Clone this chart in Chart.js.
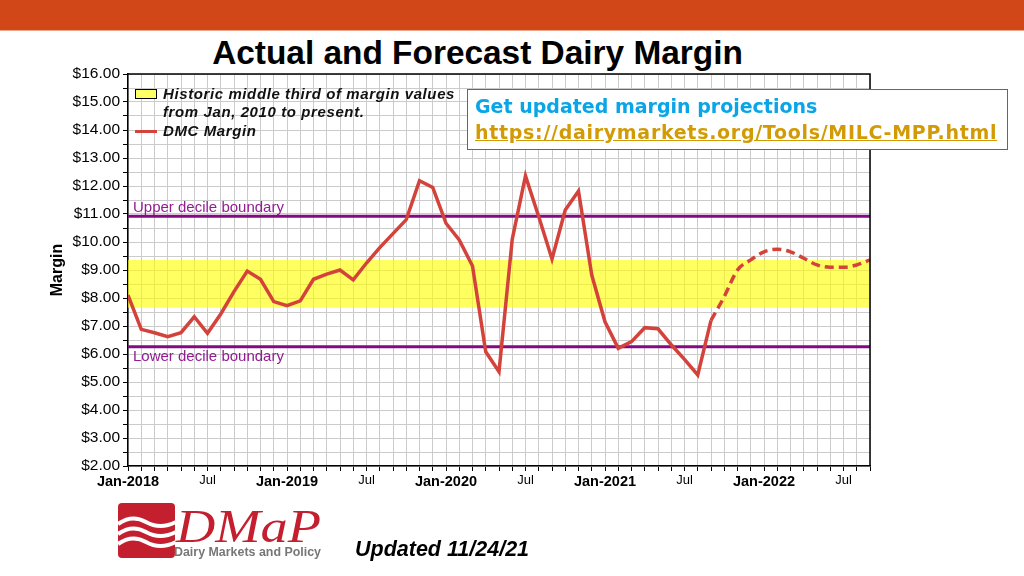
<!DOCTYPE html>
<html>
<head>
<meta charset="utf-8">
<script src="https://cdn.jsdelivr.net/npm/chart.js@4.4.0/dist/chart.umd.min.js"></script>
<style>
  html, body { margin: 0; padding: 0; background: #fff; }
  #page { position: relative; width: 1024px; height: 576px; overflow: hidden; font-family: "Liberation Sans", Arial, sans-serif; }
  #topbar { position: absolute; left: 0; top: 0; width: 1024px; height: 30px; background: #d24718; border-bottom: 1px solid #eaa58a; }
  #title { position: absolute; left: 0; width: 955px; top: 36px; text-align: center; font-weight: bold; font-size: 33.4px; line-height: 33px; color: #000; }
  #chart { position: absolute; left: 0; top: 0; }
  #legend { position: absolute; left: 135px; top: 85px; font-weight: bold; font-style: italic; font-size: 15px; letter-spacing: 0.6px; line-height: 18px; color: #111; }
  #legend .row { position: relative; padding-left: 28px; white-space: nowrap; }
  #legend .swatch { position: absolute; left: 0; top: 4px; width: 20px; height: 8px; background: #ffff66; border: 1px solid #000; }
  #legend .redline { position: absolute; left: 0; top: 8px; width: 22px; height: 3px; background: #d4433b; }
  #info { position: absolute; left: 467px; top: 89px; width: 541px; height: 61px; box-sizing: border-box; border: 1px solid #666; background: #fff; padding: 3px 0 0 7px; font-family: "DejaVu Sans", Verdana, sans-serif; font-weight: bold; }
  #info .l1 { font-size: 19px; line-height: 26px; color: #0aa5e6; }
  #info .l2 { font-size: 19px; line-height: 27px; color: #d29b06; text-decoration: underline; letter-spacing: 0.7px; }
  #updated { position: absolute; left: 355px; top: 537px; font-weight: bold; font-style: italic; font-size: 21.5px; color: #000; }
  #logo { position: absolute; left: 118px; top: 500px; }
</style>
</head>
<body>
<div id="page">
  <div id="topbar"></div>
  <div id="title">Actual and Forecast Dairy Margin</div>
  <canvas id="chart" width="1024" height="576"></canvas>
  <div id="legend">
    <div class="row"><span class="swatch"></span>Historic middle third of margin values</div>
    <div class="row">from Jan, 2010 to present.</div>
    <div class="row" style="margin-top:1px"><span class="redline"></span>DMC Margin</div>
  </div>
  <div id="info">
    <div class="l1">Get updated margin projections</div>
    <div class="l2">https://dairymarkets.org/Tools/MILC-MPP.html</div>
  </div>
  <svg id="logo" width="210" height="62" viewBox="0 0 210 62">
    <rect x="0" y="3" width="57" height="55" rx="4" fill="#c41f2e"/>
    <path d="M0 24 Q 14 14 28 22 T 58 22" stroke="#fff" stroke-width="4" fill="none"/>
    <path d="M0 34 Q 14 24 28 32 T 58 32" stroke="#fff" stroke-width="4" fill="none"/>
    <path d="M0 44 Q 14 34 28 42 T 58 42" stroke="#fff" stroke-width="4" fill="none"/>
    <text x="58" y="42" font-family="Liberation Serif, serif" font-style="italic" font-size="46" fill="#c41f2e" textLength="145" lengthAdjust="spacingAndGlyphs">DMaP</text>
    <text x="56" y="56" font-family="Liberation Sans, Arial, sans-serif" font-weight="bold" font-size="12" fill="#777" textLength="147" lengthAdjust="spacingAndGlyphs">Dairy Markets and Policy</text>
  </svg>
  <div id="updated">Updated 11/24/21</div>
</div>
<script>
// months counted from Jan-2018 (0) to Sep-2022 (56)
const axisMonths = 56;
const xTickMonths = [0, 6, 12, 18, 24, 30, 36, 42, 48, 54];
const xTickLabels = ['Jan-2018', 'Jul', 'Jan-2019', 'Jul', 'Jan-2020', 'Jul', 'Jan-2021', 'Jul', 'Jan-2022', 'Jul'];

// DMC margin, $/cwt, Jan-2018 .. Sep-2021
const actualMargin = [8.10, 6.88, 6.76, 6.62, 6.76, 7.33, 6.74, 7.43, 8.23, 8.96, 8.67, 7.87,
  7.73, 7.90, 8.67, 8.85, 9.00, 8.65, 9.25, 9.80, 10.30, 10.80, 12.19, 11.95,
  10.67, 10.07, 9.14, 6.08, 5.37, 10.10, 12.36, 10.90, 9.39, 11.14, 11.82, 8.82,
  7.15, 6.20, 6.44, 6.94, 6.90, 6.33, 5.81, 5.25, 7.20];

// forecast, Sep-2021 .. Sep-2022
const forecastStart = 44;
const forecastMargin = [7.20, 8.05, 9.00, 9.36, 9.65, 9.74, 9.65, 9.42, 9.18, 9.10, 9.10, 9.18, 9.36];

const bandLow = 7.65;
const bandHigh = 9.36;
const upperDecile = 10.92;
const lowerDecile = 6.26;

const red = '#d4433b';
const purple = '#840a84';
const sans = '"Liberation Sans", Arial, sans-serif';

function flatLine(v) {
  return [{ x: 0, y: v }, { x: axisMonths, y: v }];
}

const boxPlugin = {
  id: 'boxPlugin',
  afterDatasetsDraw(chart) {
    const { ctx, chartArea: a, scales } = chart;
    ctx.save();
    ctx.font = '15px ' + sans;
    ctx.fillStyle = '#931c93';
    ctx.textBaseline = 'bottom';
    ctx.fillText('Upper decile boundary', a.left + 5, scales.y.getPixelForValue(upperDecile) - 1);
    ctx.textBaseline = 'top';
    ctx.fillText('Lower decile boundary', a.left + 5, scales.y.getPixelForValue(lowerDecile) + 3);
    ctx.strokeStyle = '#000';
    ctx.lineWidth = 1.5;
    ctx.beginPath();
    ctx.moveTo(a.left, a.top);
    ctx.lineTo(a.right, a.top);
    ctx.lineTo(a.right, a.bottom);
    ctx.stroke();
    ctx.restore();
  }
};

const gridOpts = { color: '#cbcbcb', lineWidth: 1, tickColor: '#000', tickLength: 5, drawTicks: true };

new Chart(document.getElementById('chart'), {
  type: 'line',
  data: {
    datasets: [
      {
        label: 'DMC Margin',
        data: actualMargin.map((v, i) => ({ x: i, y: v })),
        borderColor: red,
        borderWidth: 3.5,
        pointRadius: 0,
        tension: 0,
        order: 1
      },
      {
        label: 'Forecast',
        data: forecastMargin.map((v, i) => ({ x: forecastStart + i, y: v })),
        borderColor: red,
        borderWidth: 3.5,
        borderDash: [9, 5],
        borderCapStyle: 'butt',
        pointRadius: 0,
        cubicInterpolationMode: 'monotone',
        order: 1
      },
      {
        label: 'Upper decile',
        data: flatLine(upperDecile),
        borderColor: purple,
        borderWidth: 3,
        pointRadius: 0,
        order: 2
      },
      {
        label: 'Lower decile',
        data: flatLine(lowerDecile),
        borderColor: purple,
        borderWidth: 3,
        pointRadius: 0,
        order: 2
      },
      {
        label: 'Historic middle third',
        data: flatLine(bandHigh),
        borderWidth: 0,
        pointRadius: 0,
        fill: { value: bandLow },
        backgroundColor: 'rgba(255,255,0,0.62)',
        order: 3
      }
    ]
  },
  options: {
    responsive: false,
    animation: false,
    layout: { padding: { left: 0, top: 74, right: 154, bottom: 80 } },
    plugins: { legend: { display: false }, tooltip: { enabled: false } },
    scales: {
      x: {
        type: 'linear',
        min: 0,
        max: axisMonths,
        grid: gridOpts,
        border: { color: '#000', width: 1.5 },
        ticks: {
          stepSize: 1,
          autoSkip: false,
          maxRotation: 0,
          padding: 2,
          color: '#000',
          callback: (v) => {
            const k = xTickMonths.indexOf(v);
            return k >= 0 ? xTickLabels[k] : '';
          },
          font: (c) => (c.tick && c.tick.value % 12 === 0)
            ? { family: sans, size: 14.5, weight: 'bold' }
            : { family: sans, size: 13 }
        },
        afterFit: (s) => { s.height = 30; }
      },
      y: {
        min: 2,
        max: 16,
        grid: gridOpts,
        border: { color: '#000', width: 1.5 },
        ticks: {
          stepSize: 0.5,
          autoSkip: false,
          padding: 3,
          color: '#000',
          font: { family: sans, size: 15.5 },
          callback: (v) => Number.isInteger(v) ? '$' + v.toFixed(2) : ''
        },
        title: {
          display: true,
          text: 'Margin',
          color: '#000',
          font: { family: sans, size: 16, weight: 'bold' },
          padding: { top: 48, bottom: 0 }
        },
        afterFit: (s) => { s.width = 128; }
      }
    }
  },
  plugins: [boxPlugin]
});
</script>
</body>
</html>
